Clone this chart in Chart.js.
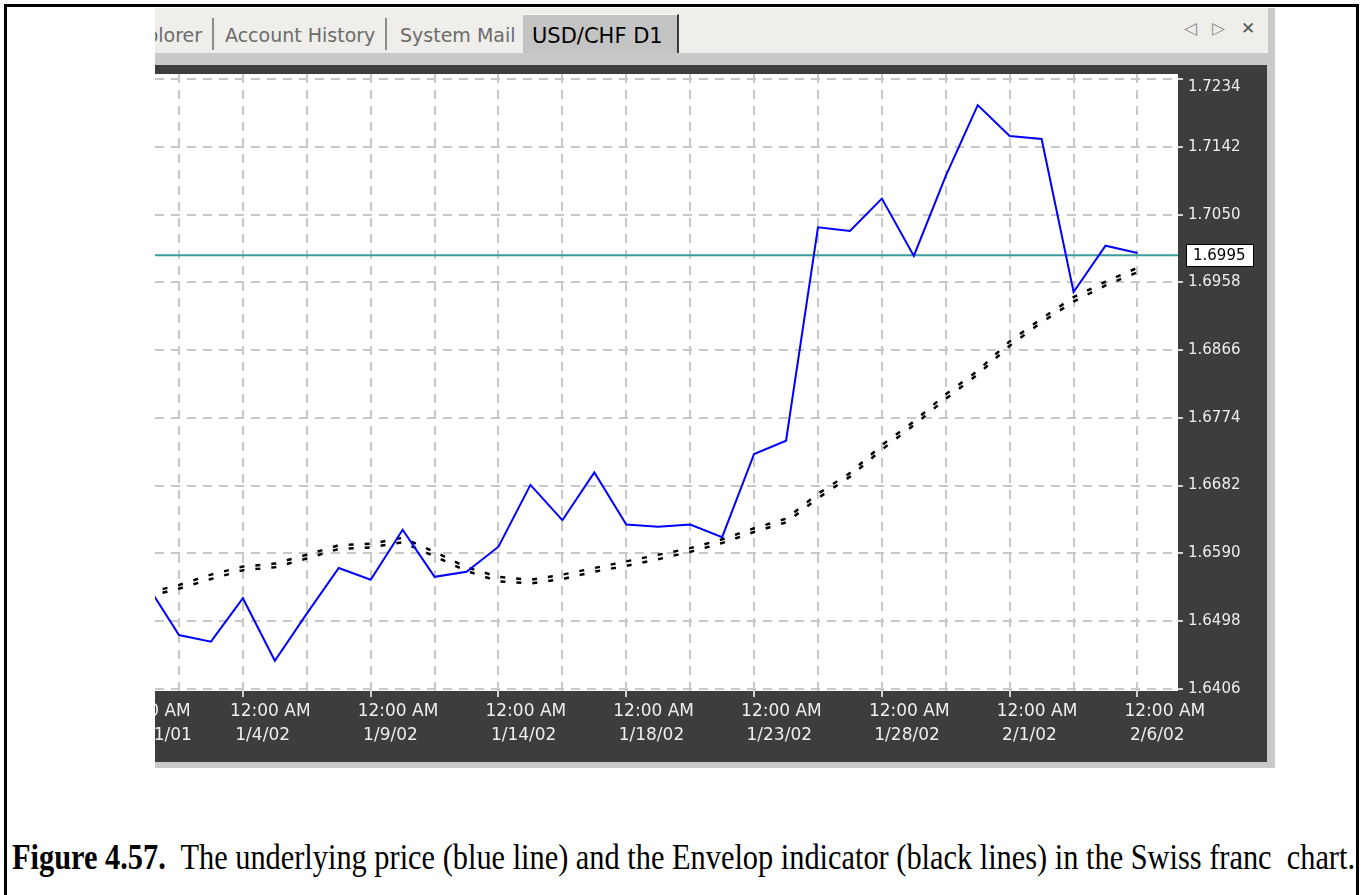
<!DOCTYPE html>
<html>
<head>
<meta charset="utf-8">
<script src="https://cdn.jsdelivr.net/npm/chart.js@4.4.1/dist/chart.umd.min.js"></script>
<style>
html,body{margin:0;padding:0;background:#fff;width:1363px;height:895px;overflow:hidden;position:relative;font-family:"DejaVu Sans",sans-serif;}
#frame{position:absolute;left:4px;top:4px;width:1355px;height:1000px;border:3px solid #000;box-sizing:border-box;}
#win{position:absolute;left:155px;top:8px;width:1120px;height:760px;background:#c9c9c9;}
#tabs{position:absolute;left:155px;top:8px;width:1113px;height:45px;background:#efeeea;overflow:hidden;}
.tab{position:absolute;top:18px;line-height:1;font-size:19px;color:#6c6c6c;white-space:nowrap;}
.sep{position:absolute;top:10px;width:2px;height:32px;background:#8c8c8c;}
#active{position:absolute;left:368px;top:6px;width:156px;height:39px;background:#c4c4c4;border-right:2px solid #3a3a3a;border-top:1px solid #f8f8f8;box-sizing:border-box;}
#active span{position:absolute;left:9px;top:11px;line-height:1;font-size:21px;color:#000;white-space:nowrap;}
.icon{position:absolute;top:12px;line-height:1;font-size:17px;color:#8a8a8a;}
#wrap{position:absolute;left:155px;top:65px;width:1112px;height:697px;background:#3d3d3d;}
#caption{position:absolute;left:12px;top:839px;font-family:"Liberation Serif","Times New Roman",serif;font-size:36px;line-height:1;color:#000;white-space:pre;transform-origin:0 0;}
</style>
</head>
<body>
<div id="frame"></div>
<div id="win"></div>
<div id="tabs">
  <span class="tab" style="left:-32px">Explorer</span>
  <div class="sep" style="left:57px"></div>
  <span class="tab" style="left:70px">Account History</span>
  <div class="sep" style="left:230px"></div>
  <span class="tab" style="left:245px">System Mail</span>
  <div id="active"><span>USD/CHF D1</span></div>
  <span class="icon" style="left:1029px">&#9665;</span>
  <span class="icon" style="left:1057px">&#9655;</span>
  <span class="icon" style="left:1086px;color:#555;font-weight:bold">&#10005;</span>
</div>
<div id="wrap"><canvas id="c" width="1112" height="697"></canvas></div>
<div id="caption"><b>Figure 4.57.</b>  The underlying price (blue line) and the Envelop indicator (black lines) in the Swiss franc  chart.</div>

<script>
// ---- data (bar index) ----
const barIdx = [-1,0,1,2,3,4,5,6,7,8,9,10,11,12,13,14,15,16,17,18,19,20,21,22,23,24,25,26,27,28,29,30];
const price = [1.6547,1.6479,1.6470,1.6529,1.6444,1.6508,1.6570,1.6554,1.6622,1.6558,1.6565,1.6599,
               1.6683,1.6635,1.6700,1.6629,1.6626,1.6629,1.6612,1.6725,1.6743,1.7033,1.7028,1.7072,
               1.6994,1.7103,1.7199,1.7157,1.7153,1.6945,1.7008,1.6998];
const envUpper = [1.6536,1.6547,1.6561,1.6572,1.6576,1.6588,1.6601,1.6603,1.6611,1.6592,1.6571,1.6558,
                  1.6554,1.6561,1.6570,1.6579,1.6588,1.6597,1.6609,1.6624,1.6637,1.6671,1.6699,1.6737,
                  1.6769,1.6806,1.6838,1.6878,1.6909,1.6938,1.6959,1.6978];
const envLower = [1.6531,1.6542,1.6555,1.6567,1.6571,1.6583,1.6596,1.6598,1.6605,1.6586,1.6566,1.6552,
                  1.6549,1.6555,1.6565,1.6573,1.6582,1.6592,1.6604,1.6619,1.6632,1.6665,1.6694,1.6731,
                  1.6764,1.6800,1.6833,1.6872,1.6904,1.6932,1.6954,1.6972];
const currentPrice = 1.6995;
const yTicks = [1.6406,1.6498,1.6590,1.6682,1.6774,1.6866,1.6958,1.7050,1.7142,1.7234];
const gridIdx = [0,2,4,6,8,10,12,14,16,18,20,22,24,26,28,30];
const xLabelIdx = [-1.75,2,6,10,14,18,22,26,30];
const xLabelTime = ['12:00 AM','12:00 AM','12:00 AM','12:00 AM','12:00 AM','12:00 AM','12:00 AM','12:00 AM','12:00 AM'];
const xLabelDate = ['12/31/01','1/4/02','1/9/02','1/14/02','1/18/02','1/23/02','1/28/02','2/1/02','2/6/02'];

const pts = arr => barIdx.map((x,i)=>({x:x, y:arr[i]}));
const allXTicks = [xLabelIdx[0]].concat(gridIdx);
const labelFor = v => { const k = xLabelIdx.indexOf(v); return k < 0 ? '' : [xLabelTime[k], ' ' + xLabelDate[k]]; };

const FONT = '"DejaVu Sans", sans-serif';

const bgPlugin = {
  id:'bg',
  beforeDraw(chart){
    const {ctx, chartArea:a} = chart;
    ctx.save();
    ctx.fillStyle = '#3d3d3d';
    ctx.fillRect(0,0,chart.width,chart.height);
    ctx.fillStyle = '#ffffff';
    ctx.fillRect(a.left, a.top, a.right-a.left, a.bottom-a.top);
    ctx.restore();
  },
  beforeDatasetsDraw(chart){
    const {ctx, chartArea:a} = chart;
    const py = chart.scales.y.getPixelForValue(currentPrice);
    ctx.save();
    ctx.strokeStyle = '#3a9c98';
    ctx.lineWidth = 2;
    ctx.beginPath(); ctx.moveTo(a.left, py); ctx.lineTo(a.right, py); ctx.stroke();
    ctx.restore();
  },
  afterDraw(chart){
    const {ctx, chartArea:a} = chart;
    const ys = chart.scales.y;
    ctx.save();
    ctx.font = '15px ' + FONT;
    ctx.textAlign = 'left';
    ctx.textBaseline = 'middle';
    ctx.fillStyle = '#eeeeee';
    ys.ticks.forEach(t => {
      const py = Math.max(ys.getPixelForValue(t.value), a.top + 13);
      ctx.fillText(t.value.toFixed(4), a.right + 10, py);
    });
    const py = Math.round(ys.getPixelForValue(currentPrice));
    ctx.fillStyle = '#ffffff';
    ctx.fillRect(a.right + 8, py - 11, 68, 23);
    ctx.strokeStyle = '#000'; ctx.lineWidth = 1;
    ctx.strokeRect(a.right + 8.5, py - 10.5, 67, 22);
    ctx.fillStyle = '#000';
    ctx.fillText(currentPrice.toFixed(4), a.right + 15, py + 1);
    ctx.restore();
  }
};

new Chart(document.getElementById('c'), {
  type:'line',
  data:{
    datasets:[
      {label:'USD/CHF', data:pts(price), borderColor:'#0000ff', borderWidth:2, pointRadius:0, tension:0, fill:false},
      {label:'Envelope upper', data:pts(envUpper), borderColor:'#000000', borderWidth:2.5, borderDash:[5,11], borderCapStyle:'butt', pointRadius:0, tension:0, fill:false},
      {label:'Envelope lower', data:pts(envLower), borderColor:'#000000', borderWidth:2.5, borderDash:[5,11], borderCapStyle:'butt', pointRadius:0, tension:0, fill:false}
    ]
  },
  options:{
    responsive:false,
    devicePixelRatio:1,
    animation:false,
    events:[],
    layout:{padding:{top:9,left:0,right:0,bottom:0}},
    plugins:{legend:{display:false}, tooltip:{enabled:false}, title:{display:false}},
    scales:{
      x:{
        type:'linear', position:'bottom', min:-0.751, max:31.268,
        afterBuildTicks(s){ s.ticks = allXTicks.map(v=>({value:v})); },
        afterFit(s){ s.height = 71; s.paddingLeft = 0; s.paddingRight = 0; },
        border:{display:false, dash:[9,7]},
        grid:{color:'#c8c8c8', lineWidth:2, drawTicks:true, tickLength:6, tickWidth:2, tickBorderDash:[],
              tickColor:(c)=> (c.tick && xLabelIdx.indexOf(c.tick.value) >= 0) ? '#d2d2d2' : 'rgba(0,0,0,0)'},
        ticks:{autoSkip:false, maxRotation:0, minRotation:0, align:'start', labelOffset:-13, padding:3,
               color:'#eeeeee', font:{family:'DejaVu Sans', size:17, lineHeight:24/17},
               callback:(v)=>labelFor(v)}
      },
      y:{
        type:'linear', position:'right', min:1.64029, max:1.72413,
        afterBuildTicks(s){ s.ticks = yTicks.map(v=>({value:v})); },
        afterFit(s){ s.width = 89; },
        border:{display:false, dash:[9,7]},
        grid:{color:'#c8c8c8', lineWidth:2, drawTicks:true, tickLength:5, tickWidth:2, tickBorderDash:[], tickColor:'#d2d2d2'},
        ticks:{display:false}
      }
    }
  },
  plugins:[bgPlugin]
});

// fit caption width to the frame
const cap = document.getElementById('caption');
const w = cap.getBoundingClientRect().width;
cap.style.transform = 'scaleX(' + (1343 / w) + ')';
</script>
</body>
</html>
